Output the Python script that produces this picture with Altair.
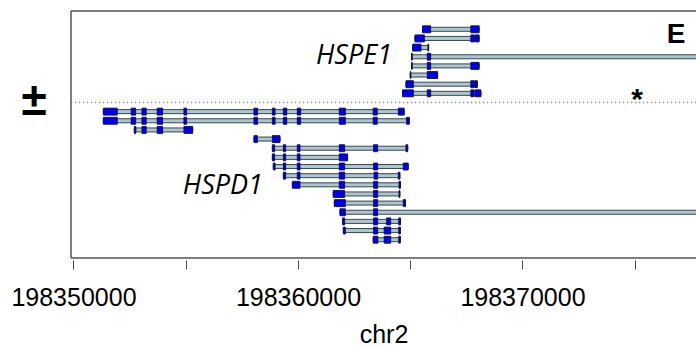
import altair as alt
import pandas as pd

# ---- HSPE1 transcripts (+ strand): track row, transcript span, exons ----
plus_rows = [0, 1, 2, 3, 4, 5, 6, 7]
plus_spans = [
    (198365550, 198368070),
    (198365210, 198368070),
    (198365110, 198365820),
    (198365060, 198390000),
    (198365060, 198368070),
    (198365000, 198366220),
    (198364810, 198367990),
    (198364660, 198368150),
]
plus_exons = [
    [(198365550, 198365910), (198367700, 198368070)],
    [(198365210, 198365630), (198367700, 198367850), (198367880, 198368070)],
    [(198365110, 198365480), (198365790, 198365820)],
    [(198365060, 198365090), (198365760, 198365910)],
    [(198365060, 198365090), (198365760, 198365910), (198367700, 198368070)],
    [(198365000, 198365030), (198365760, 198366220)],
    [(198364810, 198365140), (198367700, 198367850), (198367880, 198367990)],
    [(198364660, 198365140), (198365760, 198365910), (198367700, 198367850), (198367900, 198368150)],
]

# ---- HSPD1 transcripts (- strand) ----
minus_rows = [9, 10, 11, 12, 13, 14, 15, 16, 17, 18, 19, 20, 21, 22, 23]
minus_spans = [
    (198351330, 198364730),
    (198351330, 198364960),
    (198352710, 198355310),
    (198358040, 198359200),
    (198358860, 198364890),
    (198358860, 198362210),
    (198358900, 198364910),
    (198359350, 198364540),
    (198359750, 198364570),
    (198361570, 198364540),
    (198361620, 198364790),
    (198361870, 198390000),
    (198361990, 198364570),
    (198362020, 198364560),
    (198363350, 198364560),
]
hspd1_long = [(198351330, 198351950), (198352570, 198352770), (198353050, 198353240),
              (198353730, 198353970), (198354920, 198355040), (198358040, 198358200),
              (198358860, 198358980), (198359350, 198359500), (198359970, 198360120),
              (198361840, 198362110), (198363350, 198363530)]
minus_exons = [
    hspd1_long + [(198364470, 198364730)],
    hspd1_long + [(198364840, 198364960)],
    [(198352710, 198352780), (198353050, 198353240), (198353730, 198353970), (198354920, 198355310)],
    [(198358040, 198358190), (198358860, 198359200)],
    [(198358860, 198358960), (198359350, 198359450), (198359970, 198360090),
     (198361840, 198362080), (198363370, 198363550), (198364810, 198364890)],
    [(198358860, 198358960), (198359350, 198359450), (198359970, 198360090), (198361840, 198362210)],
    [(198358900, 198358980), (198359350, 198359450), (198359970, 198360090),
     (198361840, 198362080), (198363370, 198363550), (198364690, 198364910)],
    [(198359350, 198359450), (198359970, 198360090), (198361840, 198362080),
     (198363390, 198363550), (198364470, 198364540)],
    [(198359750, 198360090), (198361840, 198362080), (198363370, 198363550), (198364500, 198364570)],
    [(198361570, 198362080), (198363370, 198363550), (198364500, 198364540)],
    [(198361620, 198362110), (198363370, 198363550), (198364690, 198364790)],
    [(198361870, 198362110), (198363370, 198363550)],
    [(198361990, 198362080), (198363370, 198363550), (198363950, 198364130), (198364490, 198364570)],
    [(198362020, 198362110), (198363370, 198363550), (198363840, 198364130), (198364490, 198364560)],
    [(198363350, 198363560), (198363840, 198364130), (198364490, 198364560)],
]

# strand separator row and gene labels
separator_row = [8]
gene_names = ["HSPE1", "HSPD1"]
gene_label_x = [198364190, 198358440]
gene_label_row = [2.9, 17.1]

tick_values = [198350000, 198355000, 198360000, 198365000, 198370000, 198375000]
x_domain = [198349890, 198377730]

rows = plus_rows + minus_rows
spans = plus_spans + minus_spans
exons = plus_exons + minus_exons

introns_df = pd.DataFrame({"row": rows,
                           "start": [s for s, _ in spans],
                           "end": [e for _, e in spans]})
exon_records = []
for r, ex in zip(rows, exons):
    for s, e in ex:
        exon_records.append({"row": r, "start": s, "end": e})
exons_df = pd.DataFrame(exon_records)
one = pd.DataFrame({"k": [0]})

SANS = "Liberation Sans, Arial, sans-serif"
W, H = 625, 247

x_scale = alt.Scale(domain=x_domain, nice=False, zero=False)
y_scale = alt.Scale(domain=[-2, 25], reverse=True, nice=False, zero=False)

x_axis = alt.Axis(
    values=tick_values, format="d",
    labelExpr="datum.value % 10000 == 0 ? datum.label : ''",
    domain=False, grid=False, ticks=True, tickColor="#444", tickWidth=1,
    tickSize=9, offset=2, labelPadding=16, labelOverlap=False, labelFlush=False,
    labelBound=False, labelFont=SANS, labelFontSize=25, labelColor="black",
    title="chr2", titleFont=SANS, titleFontSize=25, titleFontWeight="normal",
    titleColor="black", titlePadding=12,
)

introns = alt.Chart(introns_df).transform_calculate(
    y0="datum.row - 0.22", y1="datum.row + 0.22"
).mark_rect(fill="#a6c8d2", stroke="#333", strokeWidth=0.9, clip=True).encode(
    x=alt.X("start:Q", scale=x_scale, axis=x_axis),
    x2="end:Q",
    y=alt.Y("y0:Q", scale=y_scale, axis=None),
    y2="y1:Q",
)

exon_marks = alt.Chart(exons_df).transform_calculate(
    y0="datum.row - 0.38", y1="datum.row + 0.38"
).mark_rect(fill="#0000ee", stroke="#101030", strokeWidth=0.9, clip=True).encode(
    x=alt.X("start:Q", scale=x_scale, axis=x_axis),
    x2="end:Q",
    y=alt.Y("y0:Q", scale=y_scale, axis=None),
    y2="y1:Q",
)

separator = alt.Chart(pd.DataFrame({"row": separator_row})).mark_rule(
    color="#888", strokeWidth=1.3, strokeDash=[1.3, 2.7]
).encode(y=alt.Y("row:Q", scale=y_scale, axis=None), x=alt.value(0), x2=alt.value(W))

labels = alt.Chart(pd.DataFrame({"gene": gene_names, "x": gene_label_x, "row": gene_label_row})).mark_text(
    font="Open Sans", fontSize=27, fontStyle="italic", align="right", baseline="middle", color="black"
).encode(x=alt.X("x:Q", scale=x_scale, axis=x_axis), y=alt.Y("row:Q", scale=y_scale, axis=None),
         text="gene:N")

# panel frame: left, top and bottom edges
frame_style = dict(color="#555", strokeWidth=1.5)
left_edge = alt.Chart(one).mark_rule(**frame_style).encode(x=alt.value(0), y=alt.value(0), y2=alt.value(H))
top_edge = alt.Chart(one).mark_rule(**frame_style).encode(x=alt.value(0), x2=alt.value(W), y=alt.value(0))
bottom_edge = alt.Chart(one).mark_rule(**frame_style).encode(x=alt.value(0), x2=alt.value(W), y=alt.value(H))

panel_tag = alt.Chart(one).mark_text(text="E", font=SANS, fontWeight="bold", fontSize=28,
                                     align="center", baseline="middle", color="black").encode(
    x=alt.value(605), y=alt.value(23.5))
star = alt.Chart(one).mark_text(text="*", font=SANS, fontWeight="bold", fontSize=30,
                                align="center", baseline="middle", color="black").encode(
    x=alt.value(566), y=alt.value(88.5))
strand_sign = alt.Chart(one).mark_text(text="±", font=SANS, fontWeight="bold", fontSize=46,
                                       align="center", baseline="alphabetic", color="black").encode(
    x=alt.value(-37), y=alt.value(104))

chart = alt.layer(
    separator, introns, exon_marks, labels, left_edge, top_edge, bottom_edge,
    panel_tag, star, strand_sign,
).properties(
    width=W, height=H,
    padding={"left": 71, "top": 11, "right": 0, "bottom": 89},
    autosize=alt.AutoSizeParams(type="none"),
).configure_view(strokeWidth=0)

chart.save("out.html", embed_options={"renderer": "svg", "actions": False})
